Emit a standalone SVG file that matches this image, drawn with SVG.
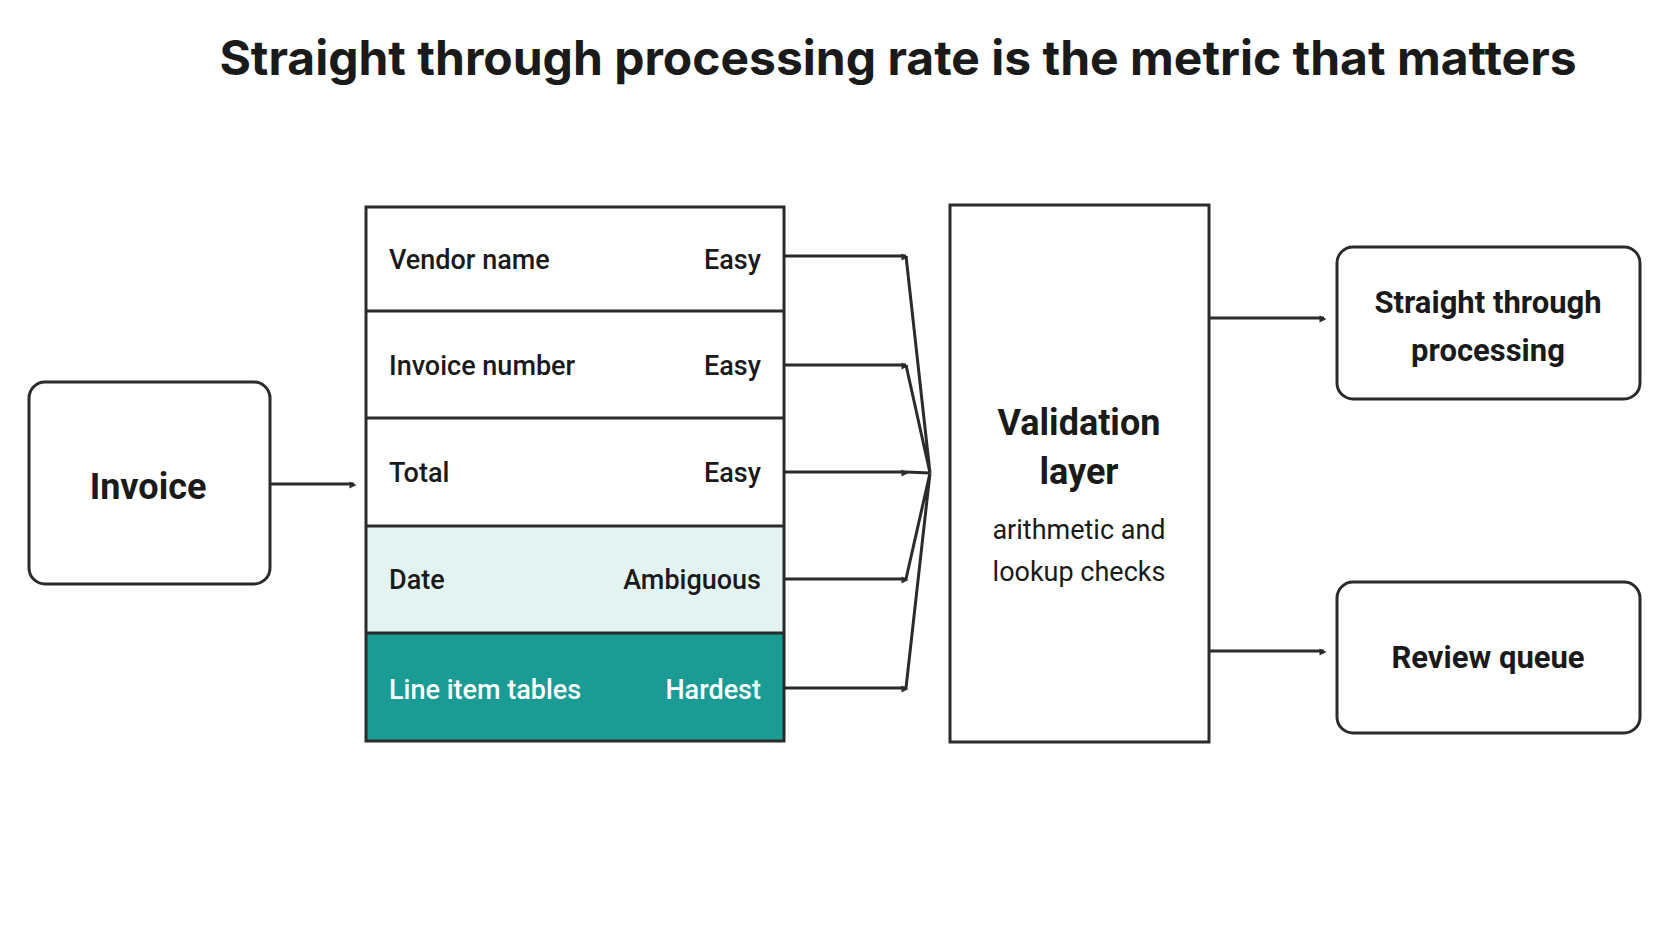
<svg xmlns="http://www.w3.org/2000/svg" width="1672" height="941" viewBox="0 0 1672 941">
<defs>
<style>
.box{fill:#fff;stroke:#2b2b2b;stroke-width:3}
.t{font-family:Roboto,"Liberation Sans",sans-serif;fill:#1a1a1a}
.row{font-size:27px;font-weight:500}
.big{font-size:36px;font-weight:700}
.mid{font-size:31px;font-weight:700}
.sub{font-size:27px;font-weight:400}
.c{stroke:#2b2b2b;stroke-width:3;fill:none}
.w{fill:#fff}
</style>
<marker id="ah" viewBox="0 0 10 10" refX="9" refY="5" markerWidth="5" markerHeight="5" orient="auto" markerUnits="userSpaceOnUse" style="overflow:visible"><path d="M0,0 L10,5 L0,10 z" fill="#2b2b2b" transform="scale(1.4)"/></marker>
</defs>
<rect width="1672" height="941" fill="#fff"/>
<text x="898" y="75" text-anchor="middle" font-family="Inter,'Liberation Sans',sans-serif" font-size="48" font-weight="700" fill="#1a1a1a">Straight through processing rate is the metric that matters</text>
<g id="invoice"><rect class="box" x="29" y="382" width="241" height="202" rx="16"/><text class="t big" x="148" y="499" text-anchor="middle">Invoice</text></g>
<g id="fields">
<rect x="366" y="207" width="418" height="534" fill="#fff"/>
<rect x="366" y="526" width="418" height="107" fill="#e3f3f2"/>
<rect x="366" y="633" width="418" height="108" fill="#1a9b93"/>
<path class="c" d="M366,311H784M366,418H784M366,526H784M366,633H784"/>
<rect x="366" y="207" width="418" height="534" fill="none" stroke="#2b2b2b" stroke-width="3"/>
<text class="t row" x="389" y="269">Vendor name</text><text class="t row" x="761" y="269" text-anchor="end">Easy</text>
<text class="t row" x="389" y="375">Invoice number</text><text class="t row" x="761" y="375" text-anchor="end">Easy</text>
<text class="t row" x="389" y="482">Total</text><text class="t row" x="761" y="482" text-anchor="end">Easy</text>
<text class="t row" x="389" y="589">Date</text><text class="t row" x="761" y="589" text-anchor="end">Ambiguous</text>
<text class="t row w" x="389" y="699">Line item tables</text><text class="t row w" x="761" y="699" text-anchor="end">Hardest</text>
</g>
<g id="validation"><rect class="box" x="950" y="205" width="259" height="537"/>
<text class="t big" x="1079" y="435" text-anchor="middle">Validation</text>
<text class="t big" x="1079" y="484" text-anchor="middle">layer</text>
<text class="t sub" x="1079" y="539" text-anchor="middle">arithmetic and</text>
<text class="t sub" x="1079" y="581" text-anchor="middle">lookup checks</text></g>
<g id="stp"><rect class="box" x="1337" y="247" width="303" height="152" rx="16"/>
<text class="t mid" x="1488" y="313" text-anchor="middle">Straight through</text>
<text class="t mid" x="1488" y="361" text-anchor="middle">processing</text></g>
<g id="review"><rect class="box" x="1337" y="582" width="303" height="151" rx="16"/>
<text class="t mid" x="1488" y="668" text-anchor="middle">Review queue</text></g>
<g id="connectors">
<path class="c" d="M270,484H354" marker-end="url(#ah)"/>
<path class="c" d="M784,256H906" marker-end="url(#ah)"/>
<path class="c" d="M784,365H906" marker-end="url(#ah)"/>
<path class="c" d="M784,472H906" marker-end="url(#ah)"/>
<path class="c" d="M784,579H906" marker-end="url(#ah)"/>
<path class="c" d="M784,688H906" marker-end="url(#ah)"/>
<path class="c" stroke-width="2" d="M906,256L930,473M906,365L930,473M906,472L930,473M906,579L930,473M906,688L930,473"/>
<path class="c" d="M1209,318H1324" marker-end="url(#ah)"/>
<path class="c" d="M1209,651H1324" marker-end="url(#ah)"/>
</g>
</svg>
